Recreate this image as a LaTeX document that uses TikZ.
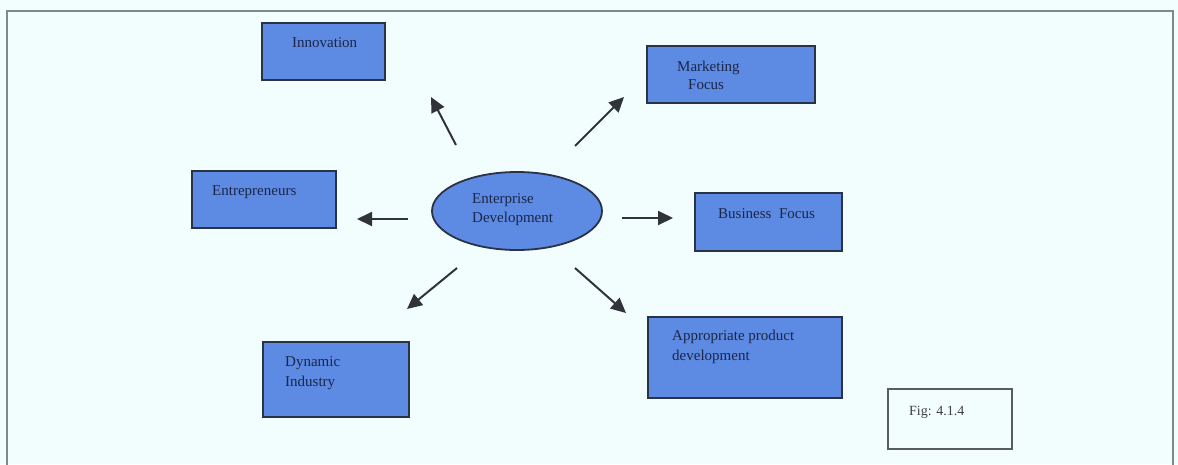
\documentclass[tikz,border=0pt]{standalone}
\usepackage{fontspec}
\setmainfont{Liberation Serif}
\usetikzlibrary{shapes.geometric,arrows.meta}

\definecolor{paper}{RGB}{242,253,253}
\definecolor{framegray}{RGB}{128,136,136}
\definecolor{boxblue}{RGB}{93,138,226}
\definecolor{boxedge}{RGB}{42,50,70}
\definecolor{boxtext}{RGB}{28,38,72}
\definecolor{arrowgray}{RGB}{48,52,58}

\tikzset{
  blockbox/.style={draw=boxedge, fill=boxblue, line width=1.7pt, rectangle,
                   inner sep=0pt, outer sep=0pt},
  hubshape/.style={draw=boxedge, fill=boxblue, line width=1.8pt, ellipse,
                   inner sep=0pt, outer sep=0pt},
  figbox/.style={draw=arrowgray!80, fill=paper, line width=1.6pt, rectangle,
                 inner sep=0pt},
  boxlabel/.style={anchor=west, inner sep=0pt, text=boxtext,
                   font=\fontsize{15}{19}\selectfont},
  figlabel/.style={anchor=west, inner sep=0pt, text=black!75,
                   font=\fontsize{14}{17}\selectfont},
  pointer/.style={draw=arrowgray, line width=2pt,
                  -{Triangle[length=15pt,width=14pt]}},
}

\begin{document}
\begin{tikzpicture}[x=1pt,y=-1pt]
  % page and outer frame (open at the bottom)
  \fill[paper] (0,0) rectangle (1178,464);
  \useasboundingbox (0,0) rectangle (1178,464);
  \draw[framegray, line width=2pt] (7,470) -- (7,11) -- (1173,11) -- (1173,470);

  % central hub
  \node[hubshape, minimum width=170pt, minimum height=78pt] (hub) at (517,211) {};
  \node[boxlabel] (hubA) at (472,200) {Enterprise};
  \node[boxlabel] (hubB) at (472,219) {Development};

  % surrounding blocks
  \node[blockbox, minimum width=123pt, minimum height=57pt] (innov) at (323.5,51.5) {};
  \node[boxlabel] (innovT) at (292,43) {Innovation};

  \node[blockbox, minimum width=168pt, minimum height=57pt] (mkt) at (731,74.5) {};
  \node[boxlabel] (mktA) at (677,68) {Marketing};
  \node[boxlabel] (mktB) at (688,85) {Focus};

  \node[blockbox, minimum width=144pt, minimum height=57pt] (entre) at (264,199.5) {};
  \node[boxlabel] (entreT) at (212,192) {Entrepreneurs};

  \node[blockbox, minimum width=147pt, minimum height=58pt] (biz) at (768.5,222) {};
  \node[boxlabel] (bizT) at (718,214) {Business\ \ Focus};

  \node[blockbox, minimum width=146pt, minimum height=75pt] (dyn) at (336,379.5) {};
  \node[boxlabel] (dynA) at (285,363) {Dynamic};
  \node[boxlabel] (dynB) at (285,383) {Industry};

  \node[blockbox, minimum width=194pt, minimum height=81pt] (appr) at (745,357.5) {};
  \node[boxlabel] (apprA) at (672,337) {Appropriate product};
  \node[boxlabel] (apprB) at (672,357) {development};

  % figure tag
  \node[figbox, minimum width=124pt, minimum height=60pt] (fig) at (950,419) {};
  \node[figlabel] (figT) at (909,412) {Fig: 4.1.4};

  % free-standing arrows radiating from the hub
  \coordinate (innovTail) at (456,145);
  \coordinate (innovHead) at (431,97);
  \coordinate (mktTail) at (575,146);
  \coordinate (mktHead) at (624,97);
  \coordinate (entreTail) at (408,219);
  \coordinate (entreHead) at (357,219);
  \coordinate (bizTail) at (622,218);
  \coordinate (bizHead) at (673,218);
  \coordinate (dynTail) at (457,268);
  \coordinate (dynHead) at (407,309);
  \coordinate (apprTail) at (575,268);
  \coordinate (apprHead) at (626,313);

  \draw[pointer] (innovTail) -- (innovHead);
  \draw[pointer] (mktTail) -- (mktHead);
  \draw[pointer] (entreTail) -- (entreHead);
  \draw[pointer] (bizTail) -- (bizHead);
  \draw[pointer] (dynTail) -- (dynHead);
  \draw[pointer] (apprTail) -- (apprHead);
\end{tikzpicture}
\end{document}
